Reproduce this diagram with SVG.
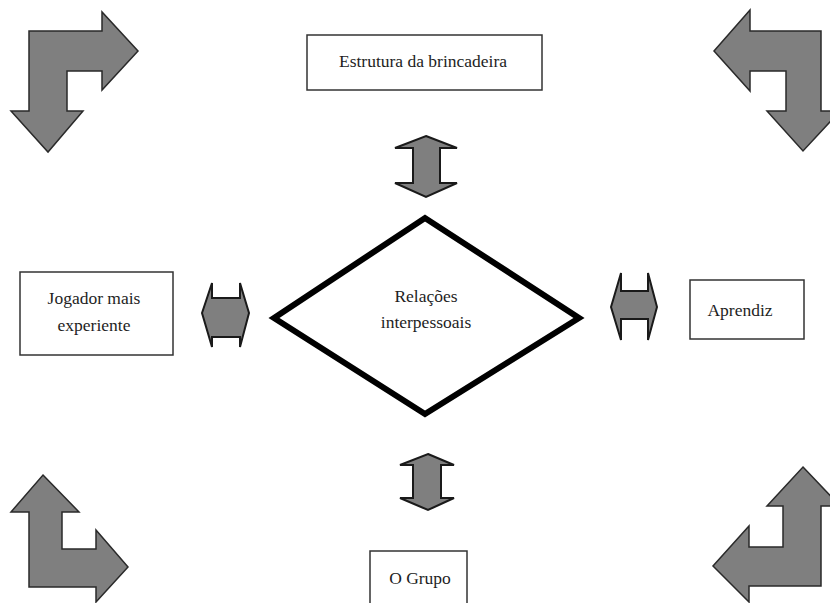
<svg xmlns="http://www.w3.org/2000/svg" width="830" height="603" viewBox="0 0 830 603">
<style>
.box{fill:#fff;stroke:#333;stroke-width:1.5}
.arr{fill:#7f7f7f;stroke:#2a2a2a;stroke-width:1.5;stroke-linejoin:miter}
.dbl{fill:#7f7f7f;stroke:#1a1a1a;stroke-width:2}
text{font-family:"Liberation Serif","Times New Roman",serif;font-size:17.5px;fill:#1e1e1e;text-anchor:middle}
</style>
<rect width="830" height="603" fill="#fff"/>
<g id="corner-arrows">
<polygon class="arr" points="29,31 102,31 102,12 138,51 102,90 102,71 67,71 67,111 83,111 48,152 11,111 29,111"/>
<polygon class="arr" points="821,31 750,31 750,10 714,51 750,91 750,71 786,71 786,111 767,111 803,151 840,111 821,111"/>
<polygon class="arr" points="43,475 79,512 62,512 62,549 96,549 96,530 128,567 96,602 96,587 29,587 29,512 11,512"/>
<polygon class="arr" points="803,467 840,506 821,506 821,586 749,586 749,602 713,566 749,526 749,547 783,547 783,506 767,506"/>
</g>
<g id="connectors">
<polygon class="dbl" points="426,136 457,148 440,148 440,183 457,183 426,197 395,183 413,183 413,148 395,148"/>
<polygon class="dbl" points="428,454 454,465 441,465 441,498 454,498 428,510 400,498 413,498 413,465 400,465"/>
<polygon class="dbl" points="202,313 212,283 212,298 240,298 240,283 249,313 240,347 240,337 212,337 212,347"/>
<polygon class="dbl" points="611,307 621,273 621,291 648,291 648,273 657,307 648,340 648,319 621,319 621,340"/>
</g>
<g id="estrutura">
<rect class="box" x="307" y="35" width="235" height="55"/>
<text x="423" y="67">Estrutura da brincadeira</text>
</g>
<g id="jogador">
<rect class="box" x="20" y="272" width="153" height="83"/>
<text x="94" y="304">Jogador mais</text>
<text x="94" y="331">experiente</text>
</g>
<g id="aprendiz">
<rect class="box" x="690" y="280" width="114" height="59"/>
<text x="740" y="316">Aprendiz</text>
</g>
<g id="grupo">
<rect class="box" x="370" y="551" width="97" height="60"/>
<text x="420" y="584">O Grupo</text>
</g>
<g id="relacoes">
<polygon points="274,318 425,218 579,318 425,414" fill="#fff" stroke="#000" stroke-width="6" stroke-linejoin="miter"/>
<text x="426" y="302">Relações</text>
<text x="426" y="328">interpessoais</text>
</g>
</svg>
